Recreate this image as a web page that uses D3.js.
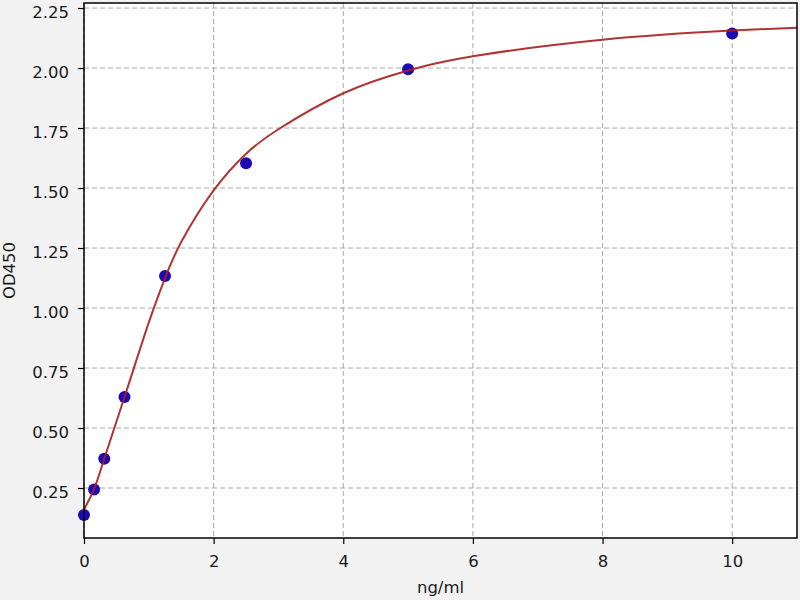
<!DOCTYPE html>
<html>
<head>
<meta charset="utf-8">
<script src="https://cdn.jsdelivr.net/npm/d3@7"></script>
<style>
  html, body { margin: 0; padding: 0; background: #f2f2f2; }
  svg { display: block; }
  text { font-family: "DejaVu Sans", sans-serif; }
</style>
</head>
<body>
<svg id="chart" width="800" height="600"></svg>
<script>
// Measured standards
const concentrations = [0, 0.156, 0.3125, 0.625, 1.25, 2.5, 5, 10];
const odValues = [0.138, 0.244, 0.372, 0.629, 1.133, 1.603, 1.995, 2.144];

// Fitted curve
const curveX = [0, 0.156, 0.3125, 0.625, 1.0, 1.25, 1.5, 2.0, 2.5, 3.0, 4, 5, 6, 8, 10, 11];
const curveY = [0.16, 0.246, 0.372, 0.629, 0.94, 1.125, 1.275, 1.49, 1.643, 1.745, 1.895, 1.99, 2.049, 2.118, 2.156, 2.168];

const xTicks = [0, 2, 4, 6, 8, 10];
const yTicks = [0.25, 0.50, 0.75, 1.00, 1.25, 1.50, 1.75, 2.00, 2.25];
const xLabel = "ng/ml";
const yLabel = "OD450";

const W = 800, H = 600;
const margin = { left: 84, top: 3, right: 3, bottom: 62 };
const iw = W - margin.left - margin.right;
const ih = H - margin.top - margin.bottom;

const svg = d3.select("#chart");
svg.append("rect").attr("width", W).attr("height", H).attr("fill", "#f2f2f2");

const g = svg.append("g").attr("transform", `translate(${margin.left},${margin.top})`);

const x = d3.scaleLinear().domain([0, 11]).range([0, iw]);
const y = d3.scaleLinear().domain([0.0417, 2.271]).range([ih, 0]);

g.append("rect").attr("width", iw).attr("height", ih).attr("fill", "#ffffff");

// grid
g.append("g").selectAll("line").data(xTicks).join("line")
  .attr("x1", d => x(d)).attr("x2", d => x(d))
  .attr("y1", 0).attr("y2", ih)
  .attr("stroke", "#a8a8a8").attr("stroke-width", 1).attr("stroke-dasharray", "5,3");
g.append("g").selectAll("line").data(yTicks).join("line")
  .attr("x1", 0).attr("x2", iw)
  .attr("y1", d => y(d)).attr("y2", d => y(d))
  .attr("stroke", "#a8a8a8").attr("stroke-width", 1).attr("stroke-dasharray", "5,3");

// points
g.append("g").selectAll("circle").data(concentrations.map((c, i) => [c, odValues[i]])).join("circle")
  .attr("cx", d => x(d[0])).attr("cy", d => y(d[1])).attr("r", 6)
  .attr("fill", "#1e08b4");

// curve
const line = d3.line().x(d => x(d[0])).y(d => y(d[1])).curve(d3.curveNatural);
g.append("path").datum(curveX.map((c, i) => [c, curveY[i]]))
  .attr("d", line).attr("fill", "none")
  .attr("stroke", "#a81e1e").attr("stroke-width", 2).attr("stroke-opacity", 0.9);

// axes
const xAxis = d3.axisBottom(x).tickValues(xTicks).tickFormat(d3.format("d")).tickSize(6).tickPadding(11);
const yAxis = d3.axisLeft(y).tickValues(yTicks).tickFormat(d3.format(".2f")).tickSize(6).tickPadding(9);

const gx = g.append("g").attr("transform", `translate(0,${ih})`).call(xAxis);
const gy = g.append("g").call(yAxis);
[gx, gy].forEach(a => {
  a.select(".domain").remove();
  a.selectAll("line").attr("stroke", "#000").attr("stroke-width", 1.2);
  a.selectAll("text").attr("font-size", 16.5).attr("fill", "#1a1a1a").attr("font-family", "DejaVu Sans, sans-serif");
});
gy.selectAll("text").attr("dy", "0.55em");

// frame
g.append("rect").attr("width", iw).attr("height", ih).attr("fill", "none")
  .attr("stroke", "#000").attr("stroke-width", 1.5);

// labels
svg.append("text").attr("x", margin.left + iw / 2).attr("y", 593)
  .attr("text-anchor", "middle").attr("font-size", 16.5).attr("fill", "#1a1a1a").text(xLabel);
svg.append("text").attr("transform", `translate(15,${margin.top + ih / 2}) rotate(-90)`)
  .attr("text-anchor", "middle").attr("font-size", 16.5).attr("fill", "#1a1a1a").text(yLabel);
</script>
</body>
</html>
